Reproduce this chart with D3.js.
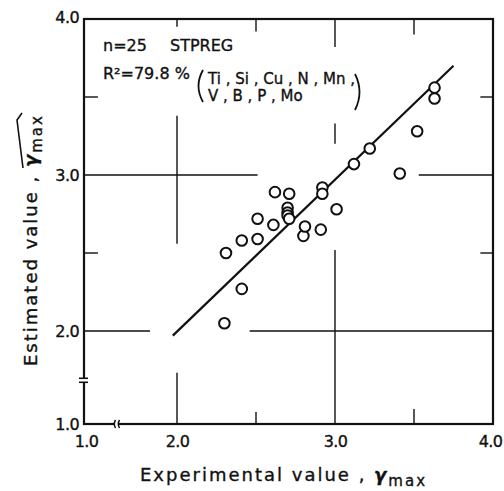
<!DOCTYPE html>
<html><head><meta charset="utf-8">
<script src="https://cdn.jsdelivr.net/npm/d3@7"></script>
<style>
html,body{margin:0;padding:0;background:#fff;}
svg{display:block;}
text{font-family:"DejaVu Sans",sans-serif;fill:#111;stroke:#111;stroke-width:0.35px;}
</style></head>
<body>
<svg id="chart" width="504" height="491"></svg>
<script>
// ---- data ----
const tickValues = [1.0, 2.0, 3.0, 4.0];
const tickLabels = ["1.0", "2.0", "3.0", "4.0"];
const experimental = [2.30,2.31,2.41,2.41,2.51,2.51,2.61,2.62,2.71,2.70,2.70,2.70,2.71,2.80,2.81,2.91,2.92,2.92,3.01,3.12,3.22,3.41,3.52,3.63,3.63];
const estimated    = [2.05,2.50,2.27,2.58,2.72,2.59,2.68,2.89,2.88,2.79,2.76,2.74,2.72,2.61,2.67,2.65,2.92,2.88,2.78,3.07,3.17,3.01,3.28,3.56,3.49];
const fitX = [1.955, 3.75];
const fitY = [1.95, 3.70];
const infoLines = ["n=25", "STPREG"];
const r2Text = "R²=79.8 %";
const elementsRow1 = "Ti , Si , Cu , N , Mn ,";
const elementsRow2 = "V , B , P , Mo";

// ---- scales (broken between 1.0 and 2.0) ----
const x = d3.scaleLinear().domain([1, 2, 4]).range([84, 177, 493]);
const y = d3.scaleLinear().domain([1, 2, 4]).range([424, 331, 19]);

const svg = d3.select("#chart");
const ink = "#111";

// frame
svg.append("rect").attr("x", x(1)).attr("y", y(4))
  .attr("width", x(4) - x(1)).attr("height", y(1) - y(4))
  .attr("fill", "none").attr("stroke", ink).attr("stroke-width", 2.2);

// partial grid lines / crosshairs (data units)
const vSegs = [
  [2.0, 4.0, 3.95], [2.0, 3.38, 2.56], [2.0, 1.55, 1.0],
  [2.5, 4.0, 3.92], [2.5, 1.0, 1.13],
  [3.0, 4.0, 3.82], [3.0, 3.33, 3.2], [3.0, 2.52, 1.0],
  [3.5, 4.0, 3.9], [3.5, 1.0, 1.16]
];
const hSegs = [
  [3.0, 1.0, 2.51], [3.0, 3.53, 4.0],
  [2.0, 1.0, 1.71], [2.0, 2.46, 4.0],
  [3.5, 1.0, 1.15], [3.5, 3.92, 4.0],
  [2.5, 1.0, 1.15], [2.5, 3.92, 4.0]
];
svg.append("g").selectAll("line").data(vSegs).join("line")
  .attr("x1", d => x(d[0])).attr("x2", d => x(d[0]))
  .attr("y1", d => y(d[1])).attr("y2", d => y(d[2]))
  .attr("stroke", ink).attr("stroke-width", 1.4);
svg.append("g").selectAll("line").data(hSegs).join("line")
  .attr("y1", d => y(d[0])).attr("y2", d => y(d[0]))
  .attr("x1", d => x(d[1])).attr("x2", d => x(d[2]))
  .attr("stroke", ink).attr("stroke-width", 1.4);

// axis break marks
const yb = y(1.47), xb = x(1.35);
svg.append("rect").attr("x", x(1) - 3).attr("y", yb - 2).attr("width", 6).attr("height", 4).attr("fill", "#fff");
[-2, 2].forEach(o => svg.append("line").attr("x1", x(1) - 5).attr("x2", x(1) + 4)
  .attr("y1", yb + o).attr("y2", yb + o).attr("stroke", ink).attr("stroke-width", 1.6));
svg.append("rect").attr("x", xb - 2).attr("y", y(1) - 3).attr("width", 4).attr("height", 6).attr("fill", "#fff");
[-2, 2].forEach(o => svg.append("path")
  .attr("d", `M${xb + o + 1},${y(1) - 4} Q${xb + o - 1.5},${y(1)} ${xb + o + 1},${y(1) + 4}`)
  .attr("fill", "none").attr("stroke", ink).attr("stroke-width", 1.5));

// tick labels via d3 axes
const axB = svg.append("g").attr("transform", `translate(0,${y(1)})`)
  .call(d3.axisBottom(x).tickValues(tickValues).tickFormat((d, i) => tickLabels[i]).tickSize(0).tickPadding(12));
const axL = svg.append("g").attr("transform", `translate(${x(1)},0)`)
  .call(d3.axisLeft(y).tickValues(tickValues).tickFormat((d, i) => tickLabels[i]).tickSize(0).tickPadding(5));
[axB, axL].forEach(a => {
  a.select(".domain").remove();
  a.selectAll("text").attr("font-size", 16).attr("letter-spacing", -0.6)
    .attr("font-family", "DejaVu Sans").attr("fill", ink);
});
axB.selectAll(".tick").filter(d => d === 1).select("text").attr("dx", 2);
axB.selectAll(".tick").filter(d => d === 4).select("text").attr("dx", -3);
axL.selectAll(".tick").filter(d => d === 4).select("text").attr("dy", "0.2em");

// regression line
svg.append("line")
  .attr("x1", x(fitX[0])).attr("y1", y(fitY[0]))
  .attr("x2", x(fitX[1])).attr("y2", y(fitY[1]))
  .attr("stroke", ink).attr("stroke-width", 2.2);

// points
svg.append("g").selectAll("circle").data(experimental.map((v, i) => [v, estimated[i]])).join("circle")
  .attr("cx", d => x(d[0])).attr("cy", d => y(d[1])).attr("r", 5.3)
  .attr("fill", "#fff").attr("stroke", ink).attr("stroke-width", 2);

// annotations
const ann = svg.append("g").attr("font-size", 16);
ann.append("text").attr("x", 103).attr("y", 51).text(infoLines[0]);
ann.append("text").attr("x", 170).attr("y", 51).text(infoLines[1]);
ann.append("text").attr("x", 103).attr("y", 79).text(r2Text);
ann.append("text").attr("x", 208).attr("y", 84).attr("font-size", 15).text(elementsRow1);
ann.append("text").attr("x", 208).attr("y", 101).attr("font-size", 15).text(elementsRow2);
ann.append("path").attr("d", "M203,70 Q194,86 203,102").attr("fill", "none").attr("stroke", ink).attr("stroke-width", 1.8);
ann.append("path").attr("d", "M355,74 Q364,92 355,110").attr("fill", "none").attr("stroke", ink).attr("stroke-width", 1.8);

// x axis title
const xt = svg.append("text").attr("x", 140).attr("y", 481).attr("font-size", 18).attr("letter-spacing", 2);
xt.append("tspan").text("Experimental value , ");
xt.append("tspan").attr("font-style", "italic").attr("font-weight", "bold").text("γ");
xt.append("tspan").attr("font-size", 15).attr("dy", 5).text("max");

// y axis title
const yg = svg.append("g").attr("transform", "translate(37,366) rotate(-90)");
const yt = yg.append("text").attr("x", 0).attr("y", 0).attr("font-size", 18).attr("letter-spacing", 2);
const yMain = "Estimated value , ";
yt.append("tspan").text(yMain);
yt.append("tspan").attr("font-style", "italic").attr("font-weight", "bold").text("γ");
yt.append("tspan").attr("font-size", 15).attr("dy", 5).text("max");
const node = yt.node();
const s = node.getStartPositionOfChar(yMain.length).x;
const e = node.getEndPositionOfChar(yMain.length + 3).x;
yg.append("path").attr("d", `M${s - 1},-14 L${e - 6},-20 L${e + 1},-15`)
  .attr("fill", "none").attr("stroke", ink).attr("stroke-width", 1.6);
</script>
</body></html>
